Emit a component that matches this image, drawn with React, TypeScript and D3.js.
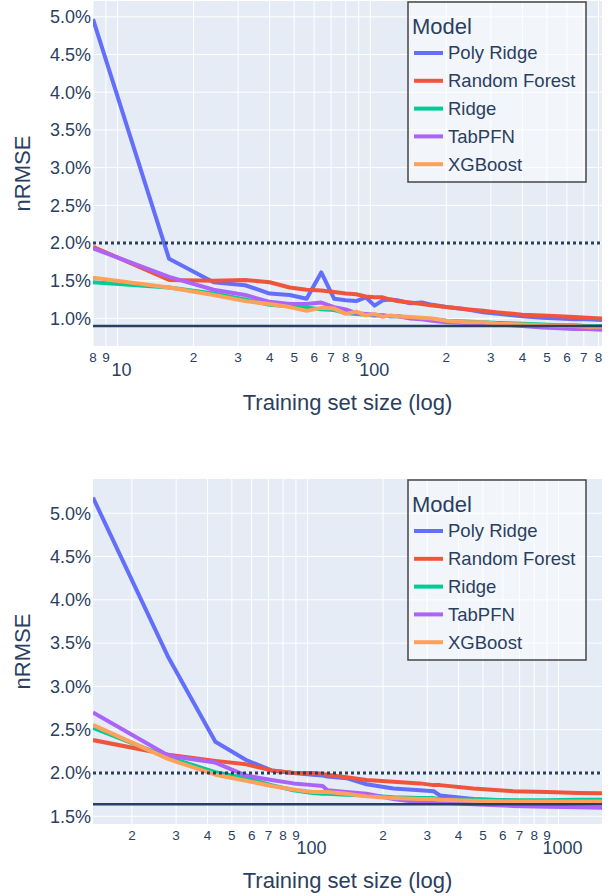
import React from "react";
import * as d3 from "d3";

const models = ["Poly Ridge", "Random Forest", "Ridge", "TabPFN", "XGBoost"];
const colors = ["#636efa", "#ef553b", "#00cc96", "#ab63fa", "#ffa15a"];

// upper panel: nRMSE (%) against training set size
const sizesTop = [8, 16, 24, 32, 40, 48, 56, 64, 72, 80, 88, 96, 104, 112, 120, 128, 144, 160, 176, 200, 240, 280, 320, 400, 480, 560, 640, 720, 826];
const polyTop = [4.97, 1.79, 1.48, 1.44, 1.33, 1.31, 1.26, 1.61, 1.26, 1.24, 1.23, 1.28, 1.17, 1.24, 1.25, 1.24, 1.2, 1.21, 1.18, 1.15, 1.12, 1.08, 1.06, 1.03, 1.01, 1.0, 0.99, 0.99, 0.98];
const forestTop = [1.95, 1.51, 1.5, 1.51, 1.48, 1.41, 1.38, 1.37, 1.35, 1.33, 1.32, 1.29, 1.28, 1.28, 1.25, 1.23, 1.21, 1.19, 1.17, 1.15, 1.12, 1.1, 1.08, 1.05, 1.04, 1.03, 1.02, 1.01, 1.0];
const ridgeTop = [1.48, 1.41, 1.33, 1.25, 1.18, 1.16, 1.14, 1.12, 1.11, 1.07, 1.06, 1.05, 1.04, 1.04, 1.03, 1.03, 1.01, 1.0, 0.99, 0.97, 0.96, 0.95, 0.94, 0.93, 0.92, 0.91, 0.91, 0.9, 0.9];
const tabpfnTop = [1.93, 1.55, 1.38, 1.31, 1.22, 1.19, 1.19, 1.21, 1.15, 1.12, 1.07, 1.06, 1.05, 1.04, 1.03, 1.03, 1.0, 0.99, 0.97, 0.95, 0.94, 0.93, 0.92, 0.9, 0.88, 0.87, 0.86, 0.86, 0.85];
const xgbTop = [1.54, 1.41, 1.31, 1.23, 1.19, 1.15, 1.1, 1.14, 1.13, 1.06, 1.09, 1.04, 1.06, 1.02, 1.04, 1.03, 1.02, 1.01, 1.0, 0.97, 0.95, 0.95, 0.93, 0.92, 0.91, 0.9, 0.9, 0.89, 0.89];
const yTicksTop = [1.0, 1.5, 2.0, 2.5, 3.0, 3.5, 4.0, 4.5, 5.0];
const baselineTop = 0.9;

// lower panel
const sizesBottom = [14, 28, 43, 57, 72, 88, 105, 115, 120, 143, 172, 220, 281, 318, 337, 458, 660, 900, 1200, 1490];
const polyBottom = [5.18, 3.33, 2.36, 2.15, 2.03, 2.0, 1.98, 1.97, 1.96, 1.94, 1.87, 1.82, 1.8, 1.79, 1.74, 1.7, 1.68, 1.67, 1.66, 1.66];
const forestBottom = [2.38, 2.21, 2.14, 2.1, 2.03, 2.0, 2.0, 1.99, 1.98, 1.95, 1.92, 1.9, 1.88, 1.86, 1.86, 1.82, 1.79, 1.78, 1.77, 1.765];
const ridgeBottom = [2.52, 2.18, 2.01, 1.94, 1.86, 1.8, 1.77, 1.76, 1.76, 1.75, 1.74, 1.72, 1.71, 1.71, 1.7, 1.69, 1.685, 1.685, 1.69, 1.69];
const tabpfnBottom = [2.7, 2.2, 2.12, 1.97, 1.92, 1.88, 1.86, 1.85, 1.8, 1.78, 1.76, 1.7, 1.66, 1.66, 1.66, 1.64, 1.62, 1.61, 1.605, 1.6];
const xgbBottom = [2.555, 2.16, 1.98, 1.91, 1.85, 1.81, 1.78, 1.78, 1.78, 1.76, 1.73, 1.71, 1.7, 1.7, 1.69, 1.68, 1.67, 1.67, 1.67, 1.67];
const yTicksBottom = [1.5, 2.0, 2.5, 3.0, 3.5, 4.0, 4.5, 5.0];
const baselineBottom = 1.64;

const threshold = 2.0;

const font = "'Liberation Sans', Arial, sans-serif";
const ink = "#2a3f5f";
const plotLeft = 93;
const plotRight = 602;

function Panel({ id, top, bottom, xDomain, yDomain, sizes, series, yTicks, baseline }) {
  const x = d3.scaleLog().domain(xDomain).range([plotLeft, plotRight]);
  const y = d3.scaleLinear().domain(yDomain).range([bottom, top]);
  const xTicks = x.ticks().filter((t) => t >= xDomain[0] - 1e-9 && t <= xDomain[1]);
  const isMajor = (t) => Math.abs(Math.log10(t) - Math.round(Math.log10(t))) < 1e-9;
  const line = d3
    .line()
    .x((d) => x(d[0]))
    .y((d) => y(d[1]));

  const legendTop = top + 1;
  return (
    <g>
      <defs>
        <clipPath id={id}>
          <rect x={plotLeft} y={top} width={plotRight - plotLeft} height={bottom - top} />
        </clipPath>
      </defs>
      <rect x={plotLeft} y={top} width={plotRight - plotLeft} height={bottom - top} fill="#e5ecf6" />
      {xTicks.map((t) => (
        <line key={"gx" + t} x1={x(t)} x2={x(t)} y1={top} y2={bottom} stroke="#fff" strokeWidth={1} />
      ))}
      {yTicks.map((t) => (
        <line key={"gy" + t} x1={plotLeft} x2={plotRight} y1={y(t)} y2={y(t)} stroke="#fff" strokeWidth={1} />
      ))}
      <g clipPath={`url(#${id})`}>
        {series.map((vals, i) => (
          <path
            key={models[i]}
            d={line(sizes.map((s, j) => [s, vals[j]]))}
            fill="none"
            stroke={colors[i]}
            strokeWidth={4}
            strokeLinejoin="round"
          />
        ))}
        <line x1={plotLeft} x2={plotRight} y1={y(threshold)} y2={y(threshold)} stroke={ink} strokeWidth={3} strokeDasharray="3,3" />
        <line x1={plotLeft} x2={plotRight} y1={y(baseline)} y2={y(baseline)} stroke={ink} strokeWidth={2.5} />
      </g>
      {yTicks.map((t) => (
        <text key={"ty" + t} x={plotLeft - 2} y={y(t)} dy="0.35em" textAnchor="end" fontSize={18} fill={ink}>
          {t.toFixed(1) + "%"}
        </text>
      ))}
      {xTicks.map((t) =>
        isMajor(t) ? (
          <text key={"tx" + t} x={x(t) + 4} y={bottom + 24} dy="0.35em" textAnchor="middle" fontSize={18} fill={ink}>
            {t}
          </text>
        ) : (
          <text key={"tx" + t} x={x(t)} y={bottom + 11} dy="0.35em" textAnchor="middle" fontSize={13.5} fill={ink}>
            {String(t)[0]}
          </text>
        )
      )}
      <text x={(plotLeft + plotRight) / 2} y={bottom + 56} dy="0.35em" textAnchor="middle" fontSize={22} fill={ink}>
        Training set size (log)
      </text>
      <text
        transform={`translate(22,${(top + bottom) / 2}) rotate(-90)`}
        dy="0.35em"
        textAnchor="middle"
        fontSize={22}
        fill={ink}
      >
        nRMSE
      </text>
      <g transform={`translate(408,${legendTop})`}>
        <rect x={0} y={0} width={178} height={180} fill="rgba(255,255,255,0.5)" stroke="#444" strokeWidth={1.5} />
        <text x={4} y={24} dy="0.35em" fontSize={22} fill={ink}>
          Model
        </text>
        {models.map((m, i) => (
          <g key={m} transform={`translate(0,${51 + i * 27.8})`}>
            <line x1={6} x2={35} y1={0} y2={0} stroke={colors[i]} strokeWidth={4} />
            <text x={40} y={0} dy="0.35em" fontSize={18.5} fill={ink}>
              {m}
            </text>
          </g>
        ))}
      </g>
    </g>
  );
}

export default function App() {
  return (
    <svg
      width={611}
      height={896}
      style={{ position: "absolute", left: 0, top: 0, background: "#fff", fontFamily: font }}
    >
      <Panel
        id="clipTop"
        top={1}
        bottom={346}
        xDomain={[8, 826]}
        yDomain={[0.634, 5.21]}
        sizes={sizesTop}
        series={[polyTop, forestTop, ridgeTop, tabpfnTop, xgbTop]}
        yTicks={yTicksTop}
        baseline={baselineTop}
      />
      <Panel
        id="clipBottom"
        top={479}
        bottom={824}
        xDomain={[14, 1490]}
        yDomain={[1.411, 5.395]}
        sizes={sizesBottom}
        series={[polyBottom, forestBottom, ridgeBottom, tabpfnBottom, xgbBottom]}
        yTicks={yTicksBottom}
        baseline={baselineBottom}
      />
    </svg>
  );
}
